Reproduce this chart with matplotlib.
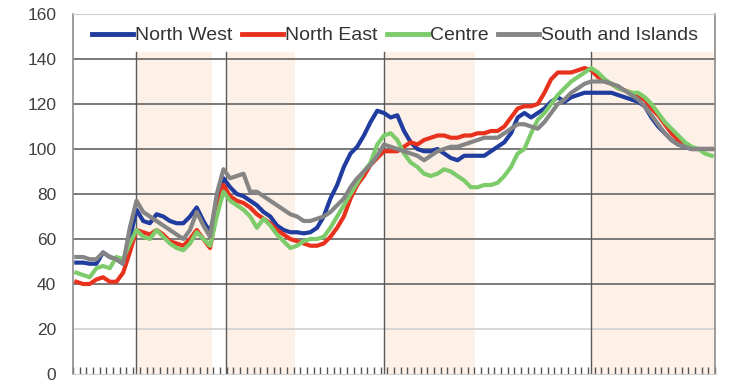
import matplotlib.pyplot as plt
import numpy as np

# quarterly index values (x = period index)
north_west = [49.5, 49.5, 49, 49, 54, 52, 51, 49, 60, 73,
              68, 67, 71, 70, 68, 67, 67, 70, 74, 68, 63, 76,
              87, 83, 80, 79, 77, 75, 72, 70, 66, 64, 63, 63, 62.5, 63, 65, 70,
              78, 84, 92, 98, 101, 106, 112, 117,
              116, 114, 115, 108, 103, 100, 99, 99, 100, 98, 96, 95, 97, 97, 97, 97, 99, 101,
              103, 107, 114, 116, 114, 116, 118, 121, 123, 121, 123, 124, 125, 125,
              125, 125, 125, 124, 123, 122, 121, 119, 114, 110, 107, 104, 102, 101, 100, 100, 100, 100]
north_east = [41, 40, 40, 42, 43, 41, 41, 45, 54, 64,
              63, 62, 64, 62, 59, 58, 57, 60, 64, 60, 56, 72,
              84, 79, 77, 76, 74, 71, 69, 67, 64, 62, 60, 59, 58, 57, 57, 58,
              61, 65, 70, 78, 84, 88, 93, 96,
              99, 99, 99, 101, 103, 102, 104, 105, 106, 106, 105, 105, 106, 106, 107, 107, 108, 108,
              110, 114, 118, 119, 119, 120, 125, 131, 134, 134, 134, 135, 136, 135,
              132, 130, 129, 127, 126, 125, 123, 122, 118, 115, 111, 107, 104, 102, 100, 100, 100, 100]
centre = [45, 44, 43, 47, 48, 47, 52, 51, 58, 64,
          61, 60, 64, 61, 58, 56, 55, 58, 63, 60, 57, 70,
          81, 77, 75, 73, 70, 65, 69, 66, 62, 59, 56, 57, 59, 60, 60, 61,
          65, 70, 75, 80, 85, 90, 94, 102,
          106, 107, 104, 98, 94, 92, 89, 88, 89, 91, 90, 88, 86, 83, 83, 84, 84, 85,
          88, 92, 98, 100, 107, 113, 116, 120, 124, 127, 130, 132, 134, 136,
          134, 131, 129, 127, 126, 125, 125, 123, 120, 116, 112, 109, 106, 103, 101, 100, 98, 97]
south_islands = [52, 52, 51, 51, 54, 52, 51, 49, 65, 77,
                 72, 70, 68, 66, 64, 62, 60, 64, 72, 66, 61, 80,
                 91, 87, 88, 89, 81, 81, 79, 77, 75, 73, 71, 70, 68, 68, 69, 70,
                 72, 75, 78, 83, 87, 90, 93, 97,
                 102, 101, 100, 99, 98, 97, 95, 97, 99, 100, 101, 101, 102, 103, 104, 105, 105, 105,
                 107, 109, 111, 111, 110, 109, 112, 116, 120, 122, 125, 127, 129, 130,
                 130, 130, 129, 128, 126, 124, 122, 119, 115, 111, 107, 104, 102, 101, 100, 100, 100, 100]

series_names = ['North West', 'North East', 'Centre', 'South and Islands']
series_colors = ['#1f3c9e', '#e8321e', '#7dcb6b', '#858585']

# shaded periods and year separators (period index)
shaded = [(8.9, 20.3), (22.4, 32.7), (46.0, 59.6), (76.9, 95.5)]
separators = [8.9, 22.4, 46.0, 76.9]

plt.rcParams['font.family'] = ['Liberation Sans', 'DejaVu Sans']

fig = plt.figure(figsize=(7.4, 3.89), dpi=100)
ax = fig.add_axes([0.0986, 0.0386, 0.8676, 0.9254])

x = np.arange(len(north_west))
top_frac = 143 / 160

for a, b in shaded:
    ax.axvspan(a, b, ymin=0, ymax=top_frac, color='#fdf0e6', lw=0, zorder=0)

for yv in range(20, 160, 20):
    c = '#d4d4d4' if yv == 20 else '#707070'
    ax.axhline(yv, color=c, lw=1.3, zorder=1)

for s in separators:
    ax.axvline(s, ymin=0, ymax=top_frac, color='#5a5a5a', lw=1.0, zorder=1)

for vals, name, col in zip([north_west, north_east, centre, south_islands],
                           series_names, series_colors):
    ax.plot(x, vals, color=col, lw=3.0, label=name, zorder=3, solid_joinstyle='round')

ax.set_xlim(-0.5, len(x) - 0.5)
ax.set_ylim(0, 160)
ax.set_yticks(range(0, 161, 20))
ax.set_xticks(np.arange(-0.5, len(x), 1.0))
ax.set_xticklabels([])
ax.tick_params(axis='x', direction='in', length=5, width=1, color='#555555')
ax.tick_params(axis='y', length=0, pad=12, labelsize=12.5, labelcolor='#404040')

for side in ['left', 'right']:
    ax.spines[side].set_color('#8c8c8c')
    ax.spines[side].set_linewidth(1.2)
ax.spines['top'].set_color('#d0d0d0')
ax.spines['bottom'].set_color('#d0d0d0')

leg = ax.legend(loc='center', bbox_to_anchor=(0.502, 0.94), ncol=4, frameon=False,
                fontsize=14, handlelength=2.1, handletextpad=0.1, columnspacing=0.5,
                borderaxespad=0)
for t in leg.get_texts():
    t.set_color('#333333')
for h in leg.get_lines():
    h.set_linewidth(3.5)

fig.savefig('out.png', dpi=100)
